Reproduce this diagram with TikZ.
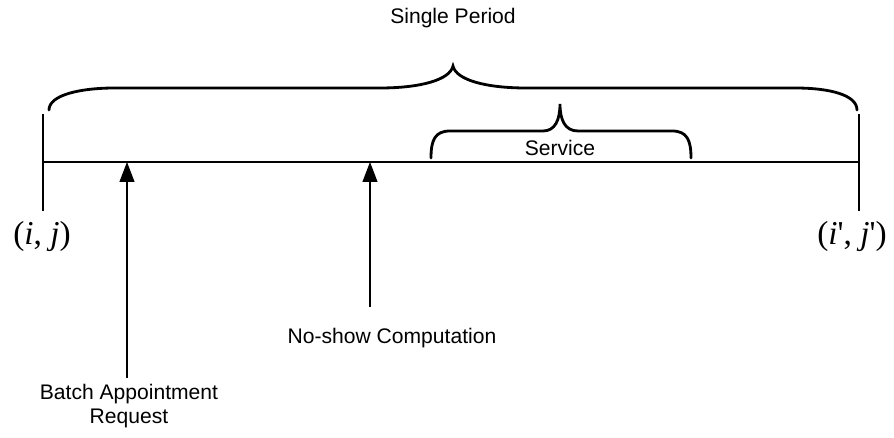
\documentclass[tikz,border=0pt]{standalone}
\usepackage{fontspec}
\setmainfont{Liberation Sans}
\newfontfamily\timesfont{Liberation Serif}
\usetikzlibrary{arrows.meta, calc}

\begin{document}
\begin{tikzpicture}[x=0.02cm, y=-0.02cm,
    label/.style={font=\fontsize{12}{14}\selectfont, inner sep=1pt, align=center},
    endlabel/.style={font=\timesfont\fontsize{19}{21}\selectfont, inner sep=0pt},
    timeline/.style={line width=0.6pt},
    brace/.style={line width=1.6pt, line cap=round},
    arrow/.style={-{Triangle[length=0.4cm, width=0.3cm]}, line width=0.6pt},
]
\useasboundingbox (0,0) rectangle (894,438);

\coordinate (start) at (43,162);
\coordinate (finish) at (859,162);
\coordinate (starttop) at (43,114);
\coordinate (startbot) at (43,211);
\coordinate (finishtop) at (859,114);
\coordinate (finishbot) at (859,211);
\coordinate (batchhit) at (127,162);
\coordinate (noshowhit) at (370,162);
\coordinate (batchfoot) at (127,378);
\coordinate (noshowfoot) at (370,307);

\node[label] (period) at (453,18) {Single Period};
\node[label] (service) at (560,148) {Service};
\node[endlabel] (ij) at (42,236) {(\textit{i}, \textit{j})};
\node[endlabel] (ijprime) at (852,236) {(\textit{i}', \textit{j}')};
\node[label, anchor=north] (batch) at (129,382) {Batch Appointment\\Request};
\node[label] (noshow) at (392,338) {No-show Computation};

\draw[timeline] (start) -- (finish);
\draw[timeline] (starttop) -- (startbot);
\draw[timeline] (finishtop) -- (finishbot);

% braces
\draw[brace] (49,110) .. controls (49,95) and (80,88) .. (115,88) -- (380,88)
    .. controls (420,88) and (450,80) .. (453,66)
    .. controls (456,80) and (486,88) .. (526,88) -- (795,88)
    .. controls (830,88) and (857,95) .. (857,110);
\draw[brace] (431,158) .. controls (431,140) and (435,131) .. (450,131) -- (543,131)
    .. controls (555,131) and (560,120) .. (560,104)
    .. controls (560,120) and (565,131) .. (578,131) -- (672,131)
    .. controls (687,131) and (691,140) .. (691,158);

\draw[arrow] (batchfoot) -- (batchhit);
\draw[arrow] (noshowfoot) -- (noshowhit);

\end{tikzpicture}
\end{document}
